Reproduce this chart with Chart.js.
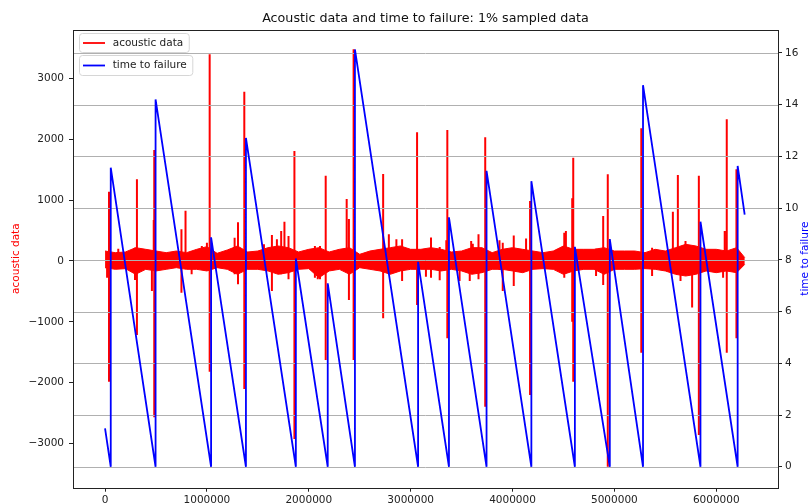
<!DOCTYPE html>
<html>
<head>
<meta charset="utf-8">
<script src="https://cdn.jsdelivr.net/npm/chart.js@4.4.0/dist/chart.umd.min.js"></script>
<style>
  html, body { margin: 0; padding: 0; background: #fff; }
  #wrap { width: 809px; height: 504px; }
</style>
</head>
<body>
<div id="wrap"><canvas id="chart" width="809" height="504"></canvas></div>
<script>
// tick labels
const xTicks = [0, 1000000, 2000000, 3000000, 4000000, 5000000, 6000000];
const acousticTicks = [-3000, -2000, -1000, 0, 1000, 2000, 3000];
const ttfTicks = [0, 2, 4, 6, 8, 10, 12, 14, 16];

// time to failure (sawtooth)
const ttfIndex = [0, 56000, 56000, 496000, 496000, 1041000, 1041000, 1383000, 1383000, 1873000,
  1873000, 2186000, 2186000, 2453000, 2453000, 3073000, 3073000, 3376000, 3376000, 3745000,
  3745000, 4185000, 4185000, 4612000, 4612000, 4955000, 4955000, 5281000, 5281000, 5845000,
  5845000, 6210000, 6210000, 6279000];
const ttfValue = [1.48, 0, 11.56, 0, 14.2, 0, 8.87, 0, 12.71, 0,
  8.05, 0, 7.09, 0, 16.13, 0, 7.92, 0, 9.64, 0,
  11.44, 0, 11.04, 0, 8.5, 0, 8.8, 0, 14.75, 0,
  9.47, 0, 11.63, 9.75];

// acoustic data: the dense noise band (upper / lower edge)
const bandIndex = [0, 100000, 200000, 300000, 400000, 500000, 600000, 700000, 800000, 900000,
  1000000, 1100000, 1200000, 1300000, 1400000, 1500000, 1600000, 1700000, 1800000, 1900000,
  2000000, 2100000, 2200000, 2300000, 2400000, 2500000, 2600000, 2700000, 2800000, 2900000,
  3000000, 3100000, 3200000, 3300000, 3400000, 3500000, 3600000, 3700000, 3800000, 3900000,
  4000000, 4100000, 4200000, 4300000, 4400000, 4500000, 4600000, 4700000, 4800000, 4900000,
  5000000, 5100000, 5200000, 5300000, 5400000, 5500000, 5600000, 5700000, 5800000, 5900000,
  6000000, 6100000, 6200000, 6280000];
const bandHigh = [164, 137, 148, 219, 192, 164, 137, 164, 137, 192,
  236, 126, 181, 247, 148, 164, 219, 247, 219, 148,
  192, 219, 148, 192, 219, 110, 164, 192, 219, 247,
  192, 192, 219, 192, 148, 164, 219, 219, 137, 192,
  219, 192, 164, 137, 164, 247, 192, 192, 192, 219,
  164, 164, 164, 137, 192, 164, 219, 274, 247, 192,
  192, 164, 219, 55];
const bandLow = [-110, -137, -126, -219, -137, -164, -137, -110, -137, -137,
  -164, -110, -137, -219, -137, -137, -164, -219, -192, -137,
  -126, -274, -164, -137, -219, -110, -137, -164, -219, -164,
  -137, -137, -137, -164, -137, -164, -219, -192, -137, -137,
  -164, -192, -137, -126, -137, -219, -164, -137, -137, -219,
  -137, -137, -137, -126, -137, -164, -219, -247, -219, -164,
  -192, -164, -192, -55];

// acoustic data: spikes (index, top, bottom)
const spikeIndex = [20000, 39000, 130000, 294000, 313000, 460000, 478000, 483000, 750000, 790000,
  850000, 950000, 1000000, 1027000, 1272000, 1305000, 1367000, 1560000, 1638000, 1687000,
  1729000, 1761000, 1801000, 1859000, 2060000, 2088000, 2110000, 2166000, 2372000, 2394000,
  2440000, 2730000, 2786000, 2860000, 2916000, 3063000, 3150000, 3200000, 3285000, 3350000,
  3360000, 3480000, 3580000, 3594000, 3610000, 3666000, 3732000, 3872000, 3904000, 4012000,
  4133000, 4172000, 4508000, 4524000, 4586000, 4596000, 4820000, 4890000, 4935000, 5264000,
  5370000, 5574000, 5623000, 5649000, 5698000, 5763000, 5829000, 6067000, 6083000, 6103000,
  6198000];
const spikeHigh = [150, 1140, 200, 219, 1343, 150, 674, 1826, 521, 827,
  164, 247, 300, 3400, 384, 636, 2785, 274, 428, 356,
  493, 647, 411, 1809, 247, 150, 247, 1403, 1020, 690,
  3482, 1431, 439, 356, 356, 2116, 150, 385, 230, 340,
  2155, 150, 150, 329, 285, 439, 2034, 340, 301, 420,
  370, 987, 466, 493, 1031, 1699, 200, 740, 1426, 2182,
  219, 811, 1414, 150, 329, 150, 1403, 150, 493, 2330,
  1508];
const spikeLow = [-274, -1985, -100, -312, -1217, -493, -150, -2571, -521, -100,
  -219, -100, -150, -1820, -219, -384, -2105, -150, -493, -100,
  -219, -100, -301, -2928, -274, -301, -301, -1628, -150, -640,
  -1628, -943, -150, -150, -329, -724, -260, -274, -317, -150,
  -1272, -329, -329, -150, -150, -301, -2396, -150, -493, -411,
  -150, -2204, -274, -200, -998, -1985, -247, -395, -3386, -1508,
  -247, -150, -200, -329, -150, -767, -2862, -274, -150, -1508,
  -1272];

const FONT = 'DejaVu Sans';
const minus = v => (v < 0 ? '\u2212' + Math.abs(v) : String(v));

const ttfData = ttfIndex.map((x, i) => ({ x: x, y: ttfValue[i] }));
const highData = bandIndex.map((x, i) => ({ x: x, y: bandHigh[i] }));
const lowData = bandIndex.map((x, i) => ({ x: x, y: bandLow[i] }));
const spikeData = [];
spikeIndex.forEach((x, i) => {
  spikeData.push({ x: x, y: spikeLow[i] }, { x: x, y: spikeHigh[i] }, { x: x, y: null });
});

// grid above the red, below the blue; frame; two legends; axis titles
const overlay = {
  id: 'overlay',
  beforeDatasetDraw(chart, args) {
    if (args.index !== 0) return;
    const { ctx, chartArea: a } = chart;
    const s = chart.scales.y1;
    ctx.save();
    ctx.strokeStyle = '#b0b0b0';
    ctx.lineWidth = 1;
    ttfTicks.forEach(t => {
      const y = Math.round(s.getPixelForValue(t)) + 0.5;
      ctx.beginPath();
      ctx.moveTo(a.left, y);
      ctx.lineTo(a.right, y);
      ctx.stroke();
    });
    ctx.restore();
  },
  afterDatasetsDraw(chart) {
    const { ctx, chartArea: a } = chart;
    ctx.save();
    ctx.strokeStyle = '#222';
    ctx.lineWidth = 1;
    ctx.strokeRect(Math.round(a.left) + 0.5, Math.round(a.top) + 0.5,
      Math.round(a.right - a.left), Math.round(a.bottom - a.top));
    ctx.restore();
  },
  afterDraw(chart) {
    const { ctx, chartArea: a } = chart;
    ctx.save();
    ctx.font = '10.5px "' + FONT + '"';
    const legends = [
      { text: 'acoustic data', color: 'red', top: 33.5, h: 19 },
      { text: 'time to failure', color: 'blue', top: 55.5, h: 20 }
    ];
    legends.forEach(l => {
      const w = 112.7 - 79.5 + ctx.measureText(l.text).width + 6;
      const x = 79.5, y = l.top, r = 3;
      ctx.beginPath();
      ctx.moveTo(x + r, y);
      ctx.lineTo(x + w - r, y);
      ctx.quadraticCurveTo(x + w, y, x + w, y + r);
      ctx.lineTo(x + w, y + l.h - r);
      ctx.quadraticCurveTo(x + w, y + l.h, x + w - r, y + l.h);
      ctx.lineTo(x + r, y + l.h);
      ctx.quadraticCurveTo(x, y + l.h, x, y + l.h - r);
      ctx.lineTo(x, y + r);
      ctx.quadraticCurveTo(x, y, x + r, y);
      ctx.closePath();
      ctx.fillStyle = 'rgba(255,255,255,0.8)';
      ctx.fill();
      ctx.strokeStyle = '#d6d6d6';
      ctx.lineWidth = 1;
      ctx.stroke();
      const cy = y + l.h / 2;
      ctx.strokeStyle = l.color;
      ctx.lineWidth = 1.8;
      ctx.beginPath();
      ctx.moveTo(83, cy);
      ctx.lineTo(105, cy);
      ctx.stroke();
      ctx.fillStyle = '#222';
      ctx.textBaseline = 'middle';
      ctx.textAlign = 'left';
      ctx.fillText(l.text, 112.7, cy);
    });
    const cy = (a.top + a.bottom) / 2;
    [['acoustic data', 'red', 16.7], ['time to failure', 'blue', 805]].forEach(t => {
      ctx.save();
      ctx.translate(t[2], cy);
      ctx.rotate(-Math.PI / 2);
      ctx.fillStyle = t[1];
      ctx.textAlign = 'center';
      ctx.textBaseline = 'middle';
      ctx.fillText(t[0], 0, 0);
      ctx.restore();
    });
    ctx.restore();
  }
};

const tickFont = { family: FONT, size: 10.5 };

new Chart(document.getElementById('chart'), {
  type: 'line',
  data: {
    datasets: [
      { label: 'time to failure', data: ttfData, yAxisID: 'y1', borderColor: 'blue',
        borderWidth: 1.8, pointRadius: 0, fill: false, tension: 0 },
      { label: 'acoustic spikes', data: spikeData, yAxisID: 'y', borderColor: 'red',
        borderWidth: 2, pointRadius: 0, fill: false, spanGaps: false },
      { label: 'acoustic data', data: highData, yAxisID: 'y', borderColor: 'red',
        backgroundColor: 'red', borderWidth: 1, pointRadius: 0, fill: '+1' },
      { label: 'acoustic low', data: lowData, yAxisID: 'y', borderColor: 'red',
        borderWidth: 1, pointRadius: 0, fill: false }
    ]
  },
  options: {
    responsive: false,
    animation: false,
    events: [],
    layout: { padding: 0 },
    plugins: {
      legend: { display: false },
      tooltip: { enabled: false },
      title: {
        display: true,
        fullSize: false,
        text: 'Acoustic data and time to failure: 1% sampled data',
        color: '#111',
        font: { family: FONT, size: 12.7, weight: 'normal' },
        padding: { top: 11, bottom: 3.3 }
      }
    },
    scales: {
      x: {
        type: 'linear',
        min: -314573,
        max: 6606028,
        afterBuildTicks: s => { s.ticks = xTicks.map(v => ({ value: v })); },
        afterFit: s => { s.height = 16.3; },
        ticks: { callback: v => String(v), maxRotation: 0, autoSkip: false,
          font: tickFont, color: '#222', padding: 2 },
        grid: { drawOnChartArea: false, drawTicks: true, tickLength: 4, color: '#222' },
        border: { display: false }
      },
      y: {
        type: 'linear',
        position: 'left',
        min: -3729,
        max: 3807,
        afterBuildTicks: s => { s.ticks = acousticTicks.map(v => ({ value: v })); },
        afterFit: s => { s.width = 73; },
        ticks: { callback: v => minus(v), font: tickFont, color: '#222', padding: 5 },
        grid: { drawOnChartArea: false, drawTicks: true, tickLength: 4, color: '#222' },
        border: { display: false }
      },
      y1: {
        type: 'linear',
        position: 'right',
        min: -0.81,
        max: 16.9,
        afterBuildTicks: s => { s.ticks = ttfTicks.map(v => ({ value: v })); },
        afterFit: s => { s.width = 31; },
        ticks: { callback: v => String(v), font: tickFont, color: '#222', padding: 3 },
        grid: { drawOnChartArea: false, drawTicks: true, tickLength: 4, color: '#222' },
        border: { display: false }
      }
    }
  },
  plugins: [overlay]
});
</script>
</body>
</html>
